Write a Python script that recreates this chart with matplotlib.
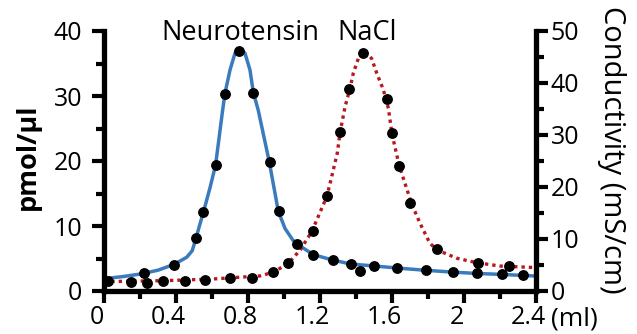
import matplotlib
matplotlib.use("Agg")
import matplotlib.pyplot as plt
import matplotlib.transforms as mtransforms
from matplotlib.ticker import MultipleLocator

plt.rcParams["font.family"] = ["Open Sans", "DejaVu Sans"]

# neurotensin (pmol/ul, left axis) - measured fractions
nt_x = [0.22, 0.39, 0.51, 0.55, 0.62, 0.67, 0.75, 0.83, 0.92, 0.97, 1.07, 1.16,
        1.27, 1.37, 1.42, 1.50, 1.63, 1.79, 1.94, 2.07, 2.21, 2.33]
nt_y = [2.7, 4.0, 8.2, 12.2, 19.4, 30.3, 37.0, 30.5, 19.9, 12.3, 7.2, 5.6,
        4.8, 4.1, 3.1, 3.8, 3.6, 3.2, 2.9, 2.8, 2.6, 2.4]

# neurotensin fitted curve
nt_fit_x = [0, 0.1, 0.2, 0.3, 0.39, 0.46, 0.49, 0.51, 0.53, 0.556, 0.59, 0.62,
            0.659, 0.672, 0.70, 0.728, 0.752, 0.783, 0.811, 0.83, 0.857, 0.918,
            0.968, 1.006, 1.05, 1.107, 1.163, 1.265, 1.37, 1.5, 1.644, 1.78,
            1.94, 2.07, 2.21, 2.4]
nt_fit_y = [1.9, 2.2, 2.6, 3.2, 4.1, 5.2, 6.2, 8.0, 10.0, 12.5, 16.0, 19.4,
            27.8, 30.4, 34.0, 36.6, 37.3, 36.6, 34.0, 30.5, 27.8, 19.9,
            12.3, 9.6, 7.8, 6.6, 5.6, 4.8, 4.15, 3.85, 3.5, 3.2,
            2.9, 2.7, 2.55, 2.3]

# NaCl (conductivity mS/cm, right axis)
nacl_x = [0.02, 0.15, 0.24, 0.33, 0.45, 0.56, 0.70, 0.82, 0.94, 1.02, 1.16,
          1.24, 1.31, 1.36, 1.44, 1.57, 1.60, 1.64, 1.70, 1.85, 2.08, 2.25]
nacl_y = [1.9, 1.75, 1.6, 1.9, 1.9, 2.1, 2.5, 2.5, 3.6, 5.4, 11.5,
          18.3, 30.5, 38.8, 45.8, 36.9, 30.3, 24.0, 17.0, 8.1, 5.4, 4.8]

nacl_fit_x = [0, 0.35, 0.6, 0.867, 0.94, 1.024, 1.09, 1.154, 1.237, 1.256,
              1.296, 1.311, 1.339, 1.367, 1.385, 1.413, 1.446, 1.487, 1.515,
              1.552, 1.58, 1.60, 1.64, 1.69, 1.706, 1.756, 1.81, 1.85, 1.96,
              2.07, 2.2, 2.4]
nacl_fit_y = [1.8, 2.0, 2.3, 2.9, 3.6, 5.3, 7.9, 11.4, 18.1, 20.7,
              26.5, 30.4, 35.4, 39.0, 41.9, 44.7, 46.2, 44.7, 41.9,
              38.7, 35.1, 30.2, 24.1, 18.8, 17.0, 13.0, 9.2, 7.9, 6.3,
              5.45, 4.8, 4.5]

x_ticks = [0, 0.4, 0.8, 1.2, 1.6, 2.0, 2.4]
x_tick_labels = ["0", "0.4", "0.8", "1.2", "1.6", "2", "2.4"]

blue = "#3a7bbd"
red = "#b8171f"
tick_fs = 18
label_fs = 19.5

fig = plt.figure(figsize=(6.37, 3.34), dpi=100)
ax = fig.add_axes([104 / 637, 1 - 291 / 334, 432 / 637, 260 / 334])
ax2 = ax.twinx()

ax.plot(nt_fit_x, nt_fit_y, color=blue, lw=2.5, solid_capstyle="butt", zorder=2)
ax2.plot(nacl_fit_x, nacl_fit_y, color=red, lw=2.4, dashes=(1.0, 1.2), zorder=2)
# dots on the top axes so they sit above both lines
ax2.plot(nt_x, nt_y, "o", color="black", ms=6.8, transform=ax.transData, zorder=3)
ax2.plot(nacl_x, nacl_y, "o", color="black", ms=6.8, zorder=3)

ax.set_xlim(0, 2.4)
ax.set_ylim(0, 40)
ax2.set_ylim(0, 50)

ax.set_xticks(x_ticks)
ax.set_xticklabels(x_tick_labels)
ax.xaxis.set_minor_locator(MultipleLocator(0.2))
ax.yaxis.set_major_locator(MultipleLocator(10))
ax.yaxis.set_minor_locator(MultipleLocator(5))
ax2.yaxis.set_major_locator(MultipleLocator(10))
ax2.yaxis.set_minor_locator(MultipleLocator(5))

for a in (ax, ax2):
    a.spines["top"].set_visible(False)
    for s in ("left", "right", "bottom"):
        a.spines[s].set_linewidth(3.8)
    a.tick_params(which="major", length=8.5, width=3, labelsize=tick_fs)
    a.tick_params(which="minor", length=5.5, width=3)
ax.spines["right"].set_visible(False)
ax2.spines["left"].set_visible(False)
ax2.spines["bottom"].set_visible(False)
ax.tick_params(axis="y", pad=7)
ax.tick_params(axis="x", pad=1.5)
ax2.tick_params(axis="y", pad=2)

# x tick labels sit a little left of their ticks in the original
shift = mtransforms.ScaledTranslation(-7.5 / 100, 0, fig.dpi_scale_trans)
for lbl in ax.get_xticklabels():
    lbl.set_transform(lbl.get_transform() + shift)

ax.set_ylabel("pmol/µl", fontsize=label_fs, fontweight="bold", va="center")
ax.yaxis.set_label_coords(-0.177, 0.515)
ax2.set_ylabel("Conductivity (mS/cm)", fontsize=21, rotation=270, va="center")
ax2.yaxis.set_label_coords(1.174, 0.542)

ax.text(0.756, 38.6, "Neurotensin", fontsize=label_fs, ha="center",
        va="baseline", clip_on=False)
ax.text(1.464, 38.6, "NaCl", fontsize=label_fs, ha="center",
        va="baseline", clip_on=False)
ax.annotate("(ml)", xy=(1, 0), xycoords="axes fraction", xytext=(10.5, -11),
            textcoords="offset points", ha="left", va="top", fontsize=19)

fig.savefig("out.png", dpi=100)
